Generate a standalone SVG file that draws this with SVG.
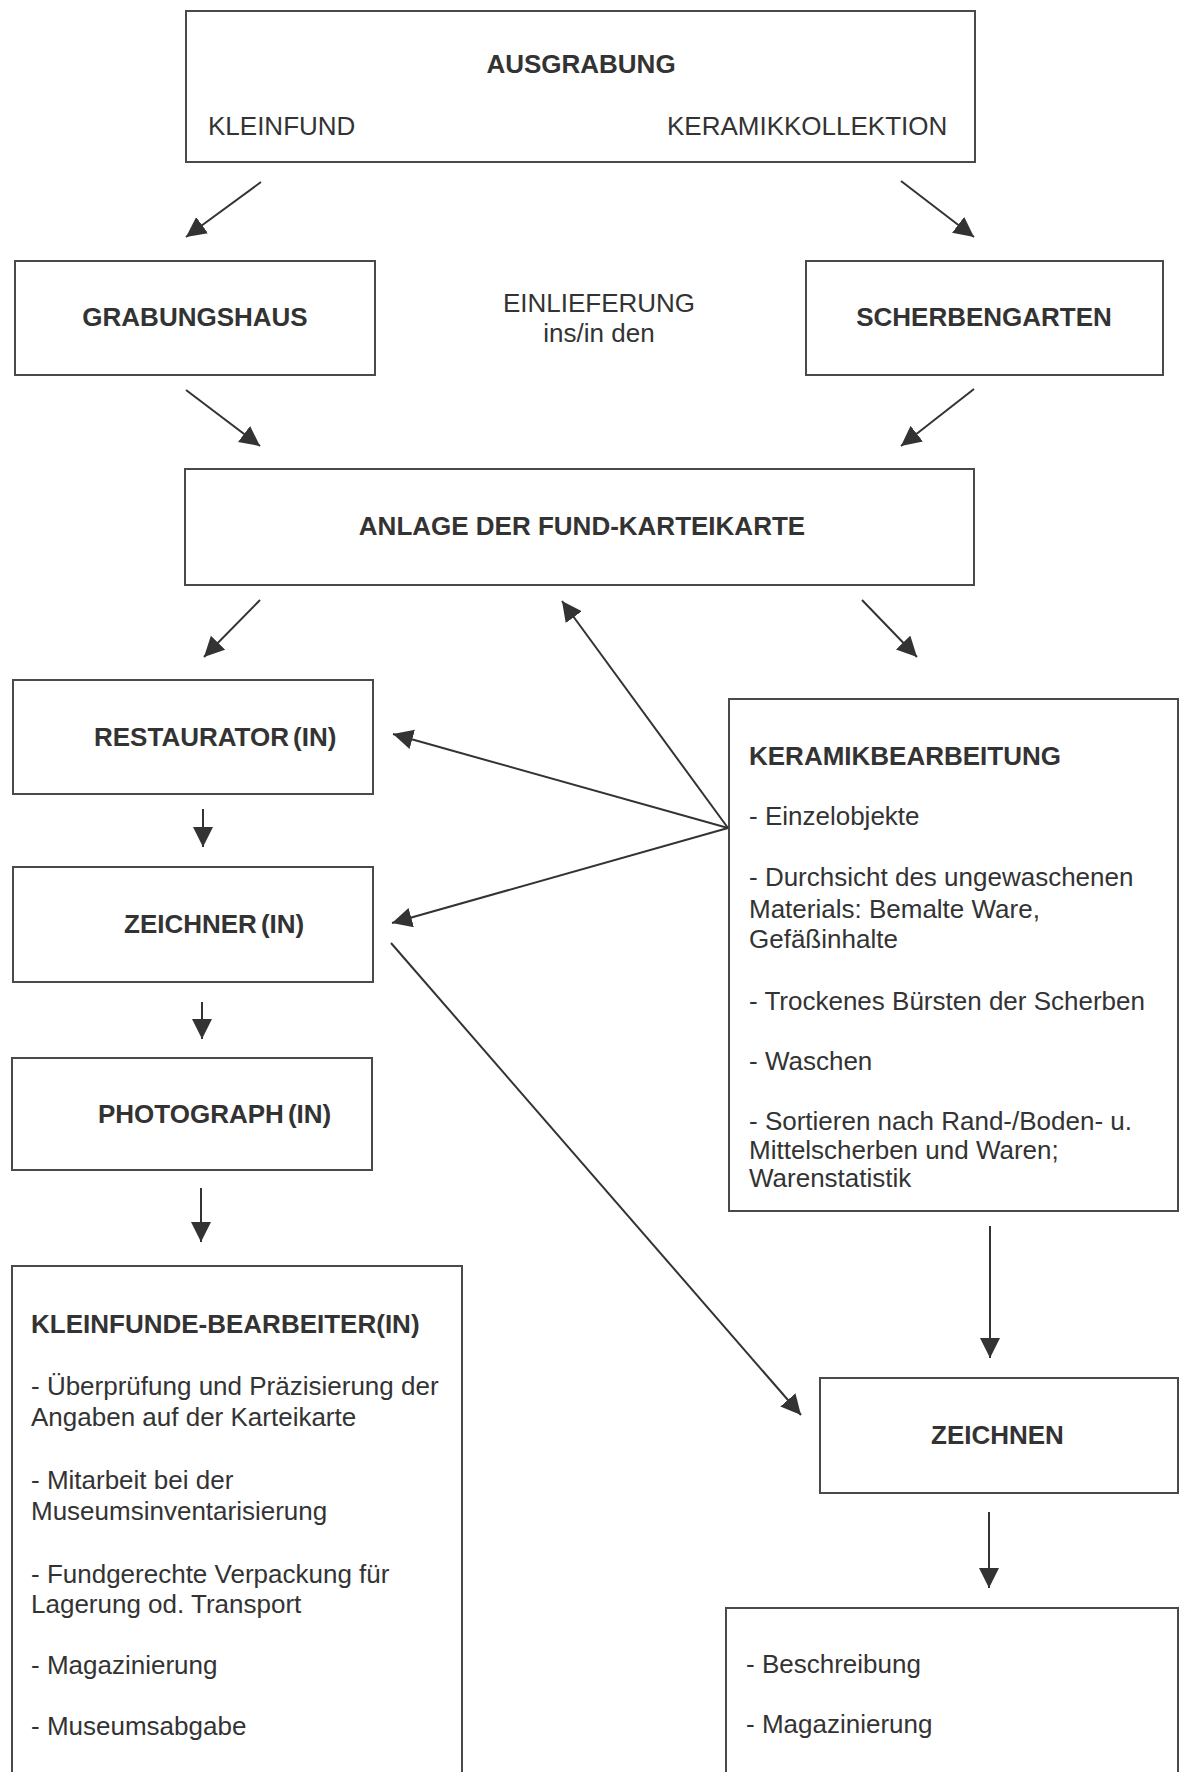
<svg xmlns="http://www.w3.org/2000/svg" width="1180" height="1772" viewBox="0 0 1180 1772">
<style>
  .box { fill: #ffffff; stroke: #4a4a4a; stroke-width: 2; }
  .t { font-family: "Liberation Sans", Arial, sans-serif; font-size: 26px; fill: #333333; }
  .b { font-weight: bold; }
  .c { text-anchor: middle; }
  .con line { stroke: #333333; stroke-width: 2; marker-end: url(#ah); }
  .con line.plain { marker-end: none; }
</style>
<defs>
  <marker id="ah" markerUnits="userSpaceOnUse" markerWidth="22" markerHeight="22" refX="20" refY="10" orient="auto">
    <path d="M0,0 L20,10 L0,20 Z" fill="#333333"/>
  </marker>
</defs>
<rect width="1180" height="1772" fill="#ffffff"/>

<g id="ausgrabung">
  <rect class="box" x="186" y="11" width="789" height="151"/>
  <text class="t b c" x="581" y="73">AUSGRABUNG</text>
  <text class="t" x="208" y="135">KLEINFUND</text>
  <text class="t" x="667" y="135">KERAMIKKOLLEKTION</text>
</g>

<g id="grabungshaus">
  <rect class="box" x="15" y="261" width="360" height="114"/>
  <text class="t b c" x="195" y="326">GRABUNGSHAUS</text>
</g>

<g id="einlieferung">
  <text class="t c" x="599" y="312">EINLIEFERUNG</text>
  <text class="t c" x="599" y="342">ins/in den</text>
</g>

<g id="scherbengarten">
  <rect class="box" x="806" y="261" width="357" height="114"/>
  <text class="t b c" x="984" y="326">SCHERBENGARTEN</text>
</g>

<g id="anlage">
  <rect class="box" x="185" y="469" width="789" height="116"/>
  <text class="t b c" x="582" y="535">ANLAGE DER FUND-KARTEIKARTE</text>
</g>

<g id="restaurator">
  <rect class="box" x="13" y="680" width="360" height="114"/>
  <text class="t b" x="94" y="746">RESTAURATOR<tspan dx="4">(IN)</tspan></text>
</g>

<g id="zeichner">
  <rect class="box" x="13" y="867" width="360" height="115"/>
  <text class="t b" x="124" y="933">ZEICHNER<tspan dx="4">(IN)</tspan></text>
</g>

<g id="photograph">
  <rect class="box" x="12" y="1058" width="360" height="112"/>
  <text class="t b" x="98" y="1123">PHOTOGRAPH<tspan dx="4">(IN)</tspan></text>
</g>

<g id="kleinfunde">
  <rect class="box" x="12" y="1266" width="450" height="530"/>
  <text class="t b" x="31" y="1333">KLEINFUNDE-BEARBEITER(IN)</text>
  <text class="t" x="31" y="1395">- Überprüfung und Präzisierung der</text>
  <text class="t" x="31" y="1426">Angaben auf der Karteikarte</text>
  <text class="t" x="31" y="1489">- Mitarbeit bei der</text>
  <text class="t" x="31" y="1520">Museumsinventarisierung</text>
  <text class="t" x="31" y="1583">- Fundgerechte Verpackung für</text>
  <text class="t" x="31" y="1613">Lagerung od. Transport</text>
  <text class="t" x="31" y="1674">- Magazinierung</text>
  <text class="t" x="31" y="1735">- Museumsabgabe</text>
</g>

<g id="keramikbearbeitung">
  <rect class="box" x="729" y="699" width="449" height="512"/>
  <text class="t b" x="749" y="765">KERAMIKBEARBEITUNG</text>
  <text class="t" x="749" y="825">- Einzelobjekte</text>
  <text class="t" x="749" y="886">- Durchsicht des ungewaschenen</text>
  <text class="t" x="749" y="918">Materials: Bemalte Ware,</text>
  <text class="t" x="749" y="948">Gefäßinhalte</text>
  <text class="t" x="749" y="1010">- Trockenes Bürsten der Scherben</text>
  <text class="t" x="749" y="1070">- Waschen</text>
  <text class="t" x="749" y="1130">- Sortieren nach Rand-/Boden- u.</text>
  <text class="t" x="749" y="1159">Mittelscherben und Waren;</text>
  <text class="t" x="749" y="1187">Warenstatistik</text>
</g>

<g id="zeichnen">
  <rect class="box" x="820" y="1378" width="358" height="115"/>
  <text class="t b" x="931" y="1444">ZEICHNEN</text>
</g>

<g id="beschreibung">
  <rect class="box" x="726" y="1608" width="452" height="190"/>
  <text class="t" x="746" y="1673">- Beschreibung</text>
  <text class="t" x="746" y="1733">- Magazinierung</text>
</g>

<g id="connectors" class="con">
  <line x1="261" y1="182" x2="186" y2="237"/>
  <line x1="901" y1="181" x2="974" y2="237"/>
  <line x1="186" y1="390" x2="260" y2="446"/>
  <line x1="974" y1="389" x2="901" y2="446"/>
  <line x1="260" y1="600" x2="204" y2="657"/>
  <line x1="862" y1="600" x2="917" y2="657"/>
  <line x1="728" y1="828" x2="562" y2="601"/>
  <line x1="728" y1="828" x2="393" y2="734"/>
  <line x1="728" y1="828" x2="392" y2="923"/>
  <line x1="203" y1="809" x2="203" y2="847"/>
  <line x1="202" y1="1002" x2="202" y2="1039"/>
  <line x1="201" y1="1188" x2="201" y2="1242"/>
  <line x1="391" y1="943" x2="801" y2="1415"/>
  <line x1="990" y1="1226" x2="990" y2="1358"/>
  <line x1="989" y1="1512" x2="989" y2="1588"/>
</g>
</svg>
